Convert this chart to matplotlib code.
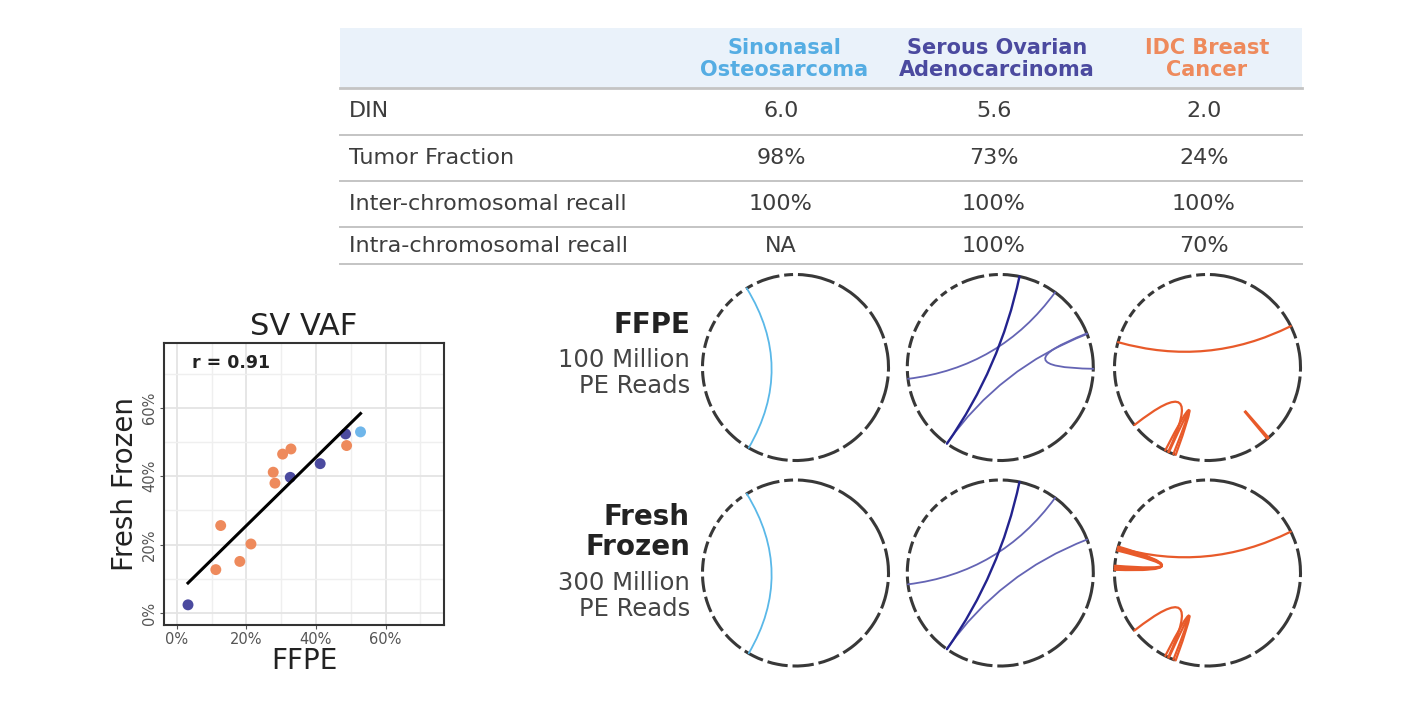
import numpy as np
import matplotlib
matplotlib.use("Agg")
import matplotlib.pyplot as plt
from matplotlib.path import Path
from matplotlib.patches import PathPatch, Arc, Rectangle
from matplotlib.ticker import FuncFormatter, MultipleLocator

plt.rcParams['font.family'] = ['DejaVu Sans']

# ---------------- data ----------------
# table
col_headers = ["Sinonasal\nOsteosarcoma", "Serous Ovarian\nAdenocarcinoma", "IDC Breast\nCancer"]
row_labels = ["DIN", "Tumor Fraction", "Inter-chromosomal recall", "Intra-chromosomal recall"]
din = ["6.0", "5.6", "2.0"]
tumor_fraction = ["98%", "73%", "24%"]
inter_recall = ["100%", "100%", "100%"]
intra_recall = ["NA", "100%", "70%"]

# scatter: SV VAF (FFPE vs Fresh Frozen)
idc_ffpe = [0.112, 0.126, 0.181, 0.213, 0.277, 0.282, 0.304, 0.328, 0.488]
idc_ff = [0.127, 0.256, 0.151, 0.202, 0.412, 0.380, 0.465, 0.480, 0.490]
serous_ffpe = [0.032, 0.326, 0.412, 0.485]
serous_ff = [0.024, 0.397, 0.437, 0.524]
sino_ffpe = [0.528]
sino_ff = [0.530]
r_label = "r = 0.91"
pct_ticks = [0.0, 0.2, 0.4, 0.6]

# circos ideogram: chromosome lengths (Mb), chr1..22, X, Y
chrom_mb = [249, 243, 198, 191, 181, 171, 159, 146, 141, 136, 135, 134,
            115, 107, 103, 90, 81, 78, 59, 63, 48, 51, 155, 59]

# SV links as (angle1, angle2) in degrees (counter-clockwise from east)
sino_links_ffpe = [(121.6, 239.8)]
sino_links_ff = [(121.6, 239.8)]
serous_dark_ffpe = [(78.1, 235.0)]
serous_dark_ff = [(78.1, 235.0)]
serous_light_ffpe = [(187.0, 53.9), (234.8, 21.1), (21.5, -0.8)]
serous_light_ff = [(187.0, 53.9), (234.8, 21.1)]
idc_links_ffpe = [(164.2, 26.4), (218.2, 245.0), (243.0, 250.0), (245.5, 248.5), (310.0, 311.0)]
idc_links_ff = [(164.2, 26.4), (218.2, 245.0), (243.0, 250.0), (245.5, 248.5),
                (164.0, 178.0), (165.0, 176.5), (163.5, 177.5), (166.0, 175.5)]

row_titles = [("FFPE", "100 Million\nPE Reads"), ("Fresh\nFrozen", "300 Million\nPE Reads")]

# ---------------- figure ----------------
W, H = 1406, 724
fig = plt.figure(figsize=(W / 100, H / 100), dpi=100)


def fx(x):
    return x / W


def fy(y):
    return 1 - y / H


def px_axes(x0, y0, w, h):
    return fig.add_axes([x0 / W, 1 - (y0 + h) / H, w / W, h / H])


C_SINO = '#55ade3'
C_SEROUS = '#4b4a9f'
C_IDC = '#ee8a5c'
TXT = '#3d3d3d'

# ---------------- table ----------------
tab_x0, tab_x1 = 340, 1302
fig.patches.append(Rectangle((fx(tab_x0), fy(88)), fx(tab_x1 - tab_x0), 60 / H,
                             transform=fig.transFigure, facecolor='#eaf2fa',
                             edgecolor='none', zorder=0))
for yy, lw in [(88, 2.0), (135, 1.4), (181, 1.4), (227, 1.4), (264, 1.4)]:
    fig.add_artist(plt.Line2D([fx(tab_x0), fx(tab_x1)], [fy(yy), fy(yy)],
                              transform=fig.transFigure, color='#c4c4c4', lw=lw))

col_x = [784, 997, 1207]
head_colors = [C_SINO, C_SEROUS, C_IDC]
for cx, txt, c in zip(col_x, col_headers, head_colors):
    fig.text(fx(cx), fy(59), txt, ha='center', va='center', color=c,
             fontsize=15, fontweight='bold', linespacing=1.1)

row_y = [111, 158, 204, 246]
row_vals = [din, tumor_fraction, inter_recall, intra_recall]
for yy, lab, vals in zip(row_y, row_labels, row_vals):
    fig.text(fx(349), fy(yy), lab, ha='left', va='center', color=TXT, fontsize=16)
    for cx, v in zip(col_x, vals):
        fig.text(fx(cx - 3), fy(yy), v, ha='center', va='center', color=TXT, fontsize=16)

# ---------------- scatter ----------------
ax = px_axes(164, 343, 280, 282)
ax.set_xlim(-0.037, 0.768)
ax.set_ylim(-0.035, 0.79)
ax.xaxis.set_major_locator(MultipleLocator(0.2))
ax.yaxis.set_major_locator(MultipleLocator(0.2))
ax.xaxis.set_minor_locator(MultipleLocator(0.1))
ax.yaxis.set_minor_locator(MultipleLocator(0.1))
ax.grid(which='major', color='#e4e4e4', lw=1.3, zorder=0)
ax.grid(which='minor', color='#efefef', lw=1.0, zorder=0)
ax.set_axisbelow(True)
fmt = FuncFormatter(lambda v, p: f"{v * 100:.0f}%")
ax.xaxis.set_major_formatter(fmt)
ax.yaxis.set_major_formatter(fmt)
ax.set_xticks(pct_ticks)
ax.set_yticks(pct_ticks)
ax.tick_params(which='minor', length=0)
ax.tick_params(which='major', length=3, color='#555555', labelcolor='#555555', labelsize=10.5, pad=2)
for lab in ax.get_yticklabels():
    lab.set_rotation(90)
    lab.set_va('center')
for s in ax.spines.values():
    s.set_color('#333333')
    s.set_linewidth(1.5)

ax.scatter(idc_ffpe, idc_ff, s=62, color=C_IDC, edgecolor='none', zorder=3)
ax.scatter(serous_ffpe, serous_ff, s=62, color=C_SEROUS, edgecolor='none', zorder=3)
ax.scatter(sino_ffpe, sino_ff, s=62, color='#6fb6ea', edgecolor='none', zorder=3)

all_x = np.array(idc_ffpe + serous_ffpe + sino_ffpe)
all_y = np.array(idc_ff + serous_ff + sino_ff)
slope, icpt = np.polyfit(all_x, all_y, 1)
xs = np.array([all_x.min(), all_x.max()])
ax.plot(xs, slope * xs + icpt, color='black', lw=2.2, zorder=4)

ax.text(0.10, 0.93, r_label, transform=ax.transAxes, ha='left', va='center',
        fontsize=12.5, fontweight='bold', color='#222222')
ax.set_title("SV VAF", fontsize=22, color='#222222', pad=6)
ax.set_xlabel("FFPE", fontsize=20, color='#222222', labelpad=0)
ax.set_ylabel("Fresh Frozen", fontsize=20, color='#222222', labelpad=2)

# ---------------- circos panels ----------------
R_PX = 93
centers_x = [795.5, 1000.3, 1207.5]
centers_y = [367.5, 573.0]
lim = 1.15

gap = 3.0
total = sum(chrom_mb)
avail = 360 - gap * len(chrom_mb)


def draw_ideogram(a):
    c = gap / 2
    for L in chrom_mb:
        span = L / total * avail
        # clockwise from top -> matplotlib CCW angles
        t1 = 90 - (c + span)
        t2 = 90 - c
        a.add_patch(Arc((0, 0), 2, 2, theta1=t1, theta2=t2, color='#383838', lw=2.2))
        c += span + gap


def draw_links(a, links, color, lw, alpha=1.0):
    for a1, a2 in links:
        p0 = (np.cos(np.radians(a1)), np.sin(np.radians(a1)))
        p2 = (np.cos(np.radians(a2)), np.sin(np.radians(a2)))
        path = Path([p0, (0, 0), p2], [Path.MOVETO, Path.CURVE3, Path.CURVE3])
        a.add_patch(PathPatch(path, facecolor='none', edgecolor=color, lw=lw, alpha=alpha,
                              capstyle='round'))


panel_links = [
    [(sino_links_ffpe, '#5ab8e8', 1.3)],
    [(serous_light_ffpe, '#6464b4', 1.3), (serous_dark_ffpe, '#23238e', 1.7)],
    [(idc_links_ffpe, '#e85a2a', 1.6)],
]
panel_links_ff = [
    [(sino_links_ff, '#5ab8e8', 1.3)],
    [(serous_light_ff, '#6464b4', 1.3), (serous_dark_ff, '#23238e', 1.7)],
    [(idc_links_ff, '#e85a2a', 1.6)],
]

for ri, (cy, plinks) in enumerate(zip(centers_y, [panel_links, panel_links_ff])):
    for cx, groups in zip(centers_x, plinks):
        size = 2 * R_PX * lim
        a = px_axes(cx - size / 2, cy - size / 2, size, size)
        a.set_xlim(-lim, lim)
        a.set_ylim(-lim, lim)
        a.set_aspect('equal')
        a.axis('off')
        draw_ideogram(a)
        for links, col, lw in groups:
            draw_links(a, links, col, lw)

# row titles
fig.text(fx(690), fy(325), row_titles[0][0], ha='right', va='center', fontsize=20,
         fontweight='bold', color='#222222')
fig.text(fx(690), fy(373), row_titles[0][1], ha='right', va='center', fontsize=17.5,
         color='#444444', linespacing=1.15)
fig.text(fx(690), fy(532), row_titles[1][0], ha='right', va='center', fontsize=20,
         fontweight='bold', color='#222222', linespacing=1.05)
fig.text(fx(690), fy(596), row_titles[1][1], ha='right', va='center', fontsize=17.5,
         color='#444444', linespacing=1.15)

fig.savefig("out.png", dpi=100, facecolor='white')
